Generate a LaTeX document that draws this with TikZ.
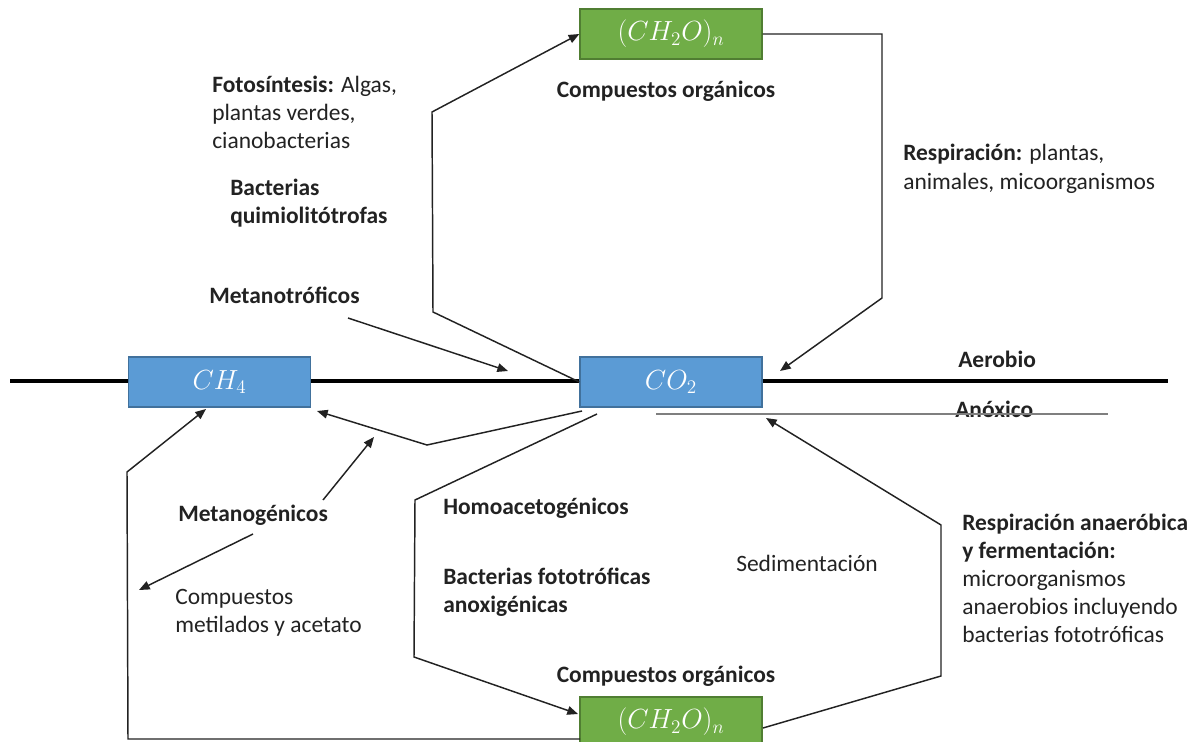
\documentclass[tikz,border=0pt]{standalone}
\usepackage{fontspec}
\setmainfont{Carlito}
\usetikzlibrary{arrows.meta}
\definecolor{poolblue}{HTML}{5B9BD5}
\definecolor{poolblueedge}{HTML}{41719C}
\definecolor{poolgreen}{HTML}{70AD47}
\definecolor{poolgreenedge}{HTML}{507E32}
\definecolor{ink}{HTML}{222222}
\definecolor{boundary}{HTML}{7F7F7F}
\begin{document}
\begin{tikzpicture}[x=0.75pt, y=-0.75pt,
  pool/.style={draw=#1edge, fill=#1, line width=1pt, minimum width=136.5pt,
    minimum height=37.5pt, inner sep=0pt, text=white,
    font=\fontsize{22}{26}\selectfont},
  lbl/.style={font=\fontsize{17.6}{21}\selectfont, text=ink, inner sep=0pt,
    anchor=base west, align=left},
  flow/.style={draw=ink, line width=1.1pt, line join=miter,
    -{Triangle[length=8pt,width=6.5pt]}},
  stratum/.style={draw=black, line width=3.2pt}
]
\useasboundingbox (0,0) rectangle (1200,742);

% carbon pools
\node[pool=poolblue]  (ch4)     at (219.5,382) {$CH_4$};
\node[pool=poolblue]  (co2)     at (671,382)   {$CO_2$};
\node[pool=poolgreen] (topcarb) at (671,34)    {$(CH_2O)_n$};
\node[pool=poolgreen] (botcarb) at (671,722)   {$(CH_2O)_n$};

% oxic / anoxic interface
\coordinate (leftend)  at (10,381);
\coordinate (rightend) at (1168,381);
\draw[stratum] (leftend) -- (leftend -| ch4.west);
\draw[stratum] (ch4.east |- leftend) -- (co2.west |- leftend);
\draw[stratum] (co2.east |- rightend) -- (rightend);

% labels (multi-line labels are placed by the baseline of their last line)
\node[lbl] (foto) at (212,148) {\textbf{Fotosíntesis:} Algas,\\plantas verdes,\\cianobacterias};
\node[lbl] (quimio) at (230,223) {\textbf{Bacterias}\\\textbf{quimiolitótrofas}};
\node[lbl] (metanotro) at (209,303) {\textbf{Metanotróficos}};
\node[lbl, anchor=base] (orgtop) at (666,98) {\textbf{Compuestos orgánicos}};
\node[lbl] (resp) at (903,189) {\textbf{Respiración:} plantas,\\animales, micoorganismos};
\node[lbl] (aerobio) at (958,367) {\textbf{Aerobio}};
\node[lbl] (anoxico) at (955,417) {\textbf{Anóxico}};
\node[lbl] (metanogen) at (178,521) {\textbf{Metanogénicos}};
\node[lbl] (metilados) at (175,632) {Compuestos\\metilados y acetato};
\node[lbl] (homoacet) at (443,514) {\textbf{Homoacetogénicos}};
\node[lbl] (fototrof) at (443,612) {\textbf{Bacterias fototróficas}\\\textbf{anoxigénicas}};
\node[lbl] (sedim) at (736,571) {Sedimentación};
\node[lbl] (anaer) at (962,642) {\textbf{Respiración anaeróbica}\\\textbf{y fermentación:}\\microorganismos\\anaerobios incluyendo\\bacterias fototróficas};
\node[lbl, anchor=base] (orgbot) at (666,682) {\textbf{Compuestos orgánicos}};

% anoxic boundary line
\coordinate (anoxA) at (656,414);
\coordinate (anoxB) at (1108,414);
\draw[boundary, line width=1.6pt] (anoxA) -- (anoxB);

% photosynthesis / chemolithotrophy: CO2 -> organic matter
\coordinate (fotoA) at (433,312);
\coordinate (fotoB) at (432,112);
\draw[flow] (co2.west) -- (fotoA) -- (fotoB) -- (topcarb.west);

% aerobic respiration: organic matter -> CO2
\coordinate (respA) at (882,34);
\coordinate (respB) at (882,298);
\coordinate (respTip) at (780,371);
\draw[flow] (topcarb.east) -- (respA) -- (respB) -- (respTip);

% methanotrophy
\coordinate (mtA) at (348,318);
\coordinate (mtTip) at (508,371);
\draw[flow] (mtA) -- (mtTip);

% CO2 reduced to CH4
\coordinate (redA) at (582,411);
\coordinate (redB) at (427,445);
\coordinate (redTip) at (317,411);
\draw[flow] (redA) -- (redB) -- (redTip);

% homoacetogenesis / anoxygenic phototrophy: CO2 -> organic matter
\coordinate (homA) at (597,414);
\coordinate (homB) at (415,500);
\coordinate (homC) at (414,657);
\coordinate (homTip) at (578,714);
\draw[flow] (homA) -- (homB) -- (homC) -- (homTip);

% methanogen arrows
\coordinate (mgA) at (323,500);
\coordinate (mgTip) at (374,437);
\draw[flow] (mgA) -- (mgTip);
\coordinate (mgB) at (253,534);
\coordinate (mgTipB) at (139,590);
\draw[flow] (mgB) -- (mgTipB);

% organic matter -> CH4
\coordinate (loopA) at (580,739);
\coordinate (loopB) at (128,739);
\coordinate (loopC) at (127,472);
\coordinate (loopTip) at (206,409);
\draw[flow] (loopA) -- (loopB) -- (loopC) -- (loopTip);

% anaerobic respiration and fermentation: organic matter -> CO2
\coordinate (anA) at (763,728);
\coordinate (anB) at (941,676);
\coordinate (anC) at (941,525);
\coordinate (anTip) at (766,418);
\draw[flow] (anA) -- (anB) -- (anC) -- (anTip);
\end{tikzpicture}
\end{document}
